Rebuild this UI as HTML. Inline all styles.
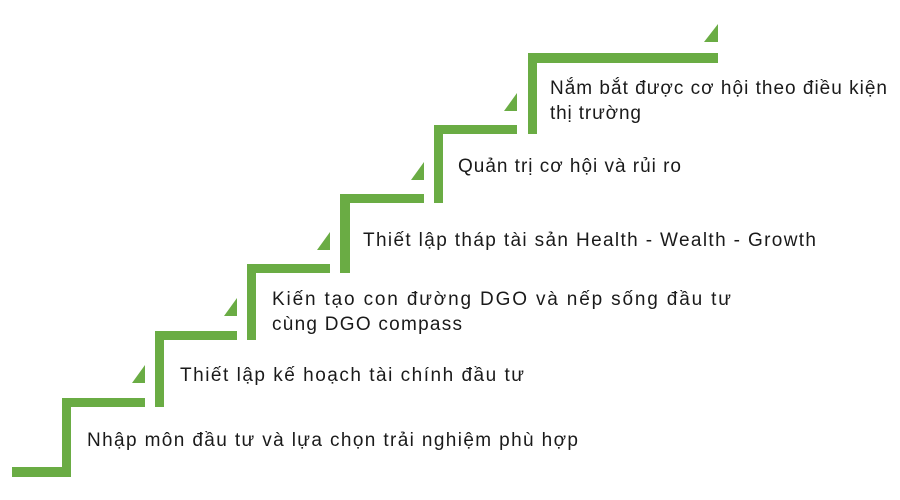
<!DOCTYPE html>
<html><head><meta charset="utf-8"><style>html,body{margin:0;padding:0;background:#fff}svg{display:block}</style></head>
<body>
<svg width="900" height="500" xmlns="http://www.w3.org/2000/svg">
<g fill="#6aac44">
<!-- step 1 -->
<rect x="12" y="467" width="59" height="10"/>
<rect x="62" y="398" width="9" height="79"/>
<rect x="62" y="398" width="83" height="9"/>
<polygon points="132,383 145,383 145,365"/>
<!-- step 2 -->
<rect x="155" y="331" width="9" height="76"/>
<rect x="155" y="331" width="82" height="9"/>
<polygon points="224,316 237,316 237,298"/>
<!-- step 3 -->
<rect x="247" y="264" width="9" height="76"/>
<rect x="247" y="264" width="83" height="9"/>
<polygon points="317,250 330,250 330,232"/>
<!-- step 4 -->
<rect x="340" y="194" width="10" height="79"/>
<rect x="340" y="194" width="84" height="9"/>
<polygon points="411,180 424,180 424,162"/>
<!-- step 5 -->
<rect x="434" y="125" width="9" height="78"/>
<rect x="434" y="125" width="83" height="9"/>
<polygon points="504,111 517,111 517,93"/>
<!-- step 6 -->
<rect x="528" y="53" width="9" height="81"/>
<rect x="528" y="53" width="190" height="10"/>
<polygon points="704,42 718,42 718,24"/>
</g>
<g font-family="Liberation Sans, DejaVu Sans, sans-serif" font-size="19" fill="#1a1a1a">
<text x="87" y="446" textLength="491" lengthAdjust="spacing">Nhập môn đầu tư và lựa chọn trải nghiệm phù hợp</text>
<text x="180" y="381" textLength="344" lengthAdjust="spacing">Thiết lập kế hoạch tài chính đầu tư</text>
<text x="272" y="305" textLength="459" lengthAdjust="spacing">Kiến tạo con đường DGO và nếp sống đầu tư</text>
<text x="272" y="330" textLength="190" lengthAdjust="spacing">cùng DGO compass</text>
<text x="363" y="246" textLength="453" lengthAdjust="spacing">Thiết lập tháp tài sản Health - Wealth - Growth</text>
<text x="458" y="172" textLength="223" lengthAdjust="spacing">Quản trị cơ hội và rủi ro</text>
<text x="550" y="94" textLength="337" lengthAdjust="spacing">Nắm bắt được cơ hội theo điều kiện</text>
<text x="550" y="119" textLength="91" lengthAdjust="spacing">thị trường</text>
</g>
</svg>
</body></html>
